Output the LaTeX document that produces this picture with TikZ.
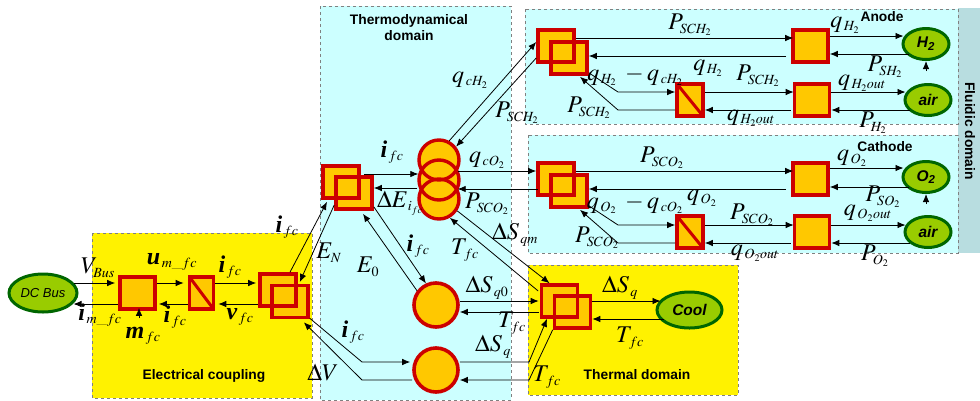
\documentclass[tikz,border=0pt]{standalone}
\usepackage{mathptmx}
\usepackage{amsmath}
\usepackage[no-math]{fontspec}
\newfontfamily\labelfont{Liberation Sans}
\newfontfamily\labelserif{Liberation Serif}
\newcommand{\bv}[1]{\mbox{\labelserif\bfseries\itshape #1}}
\DeclareMathSizes{24}{24}{14}{10}
\usetikzlibrary{arrows.meta,shapes.geometric}
\definecolor{blockred}{HTML}{CC0000}
\definecolor{blockcol}{HTML}{FFC800}
\definecolor{busgreen}{HTML}{99CC00}
\definecolor{darkgreen}{HTML}{006600}
\definecolor{paleblue}{HTML}{CCFFFF}
\definecolor{fluidbar}{HTML}{B8DDE0}
\tikzset{
  domainbox/.style={draw=gray,dashed,line width=.5pt},
  sqblock/.style={draw=blockred,fill=blockcol,line width=3.6pt,minimum width=35pt,minimum height=32pt,inner sep=0pt},
  stblock/.style={sqblock,minimum width=26pt,path picture={\draw[blockred,line width=3pt] (path picture bounding box.north west) -- (path picture bounding box.south east);}},
  dframe/.style={draw=blockred,line width=3.6pt,minimum width=36pt,minimum height=32pt,inner sep=0pt},
  cframe/.style={circle,draw=blockred,line width=3.4pt,minimum size=40pt,inner sep=0pt},
  cblock/.style={circle,draw=blockred,fill=blockcol,line width=3.6pt,minimum size=44pt,inner sep=0pt},
  source/.style={ellipse,draw=darkgreen,fill=busgreen,line width=3pt,inner sep=0pt,minimum width=46pt,minimum height=31pt,font=\labelfont\bfseries\itshape\fontsize{15.5}{17}\selectfont},
  conn/.style={-{Latex[length=8pt,width=6.5pt]},line width=.8pt},
  lab/.style={inner sep=0pt,font=\fontsize{24}{26}\selectfont},
  title/.style={inner sep=0pt,align=center,font=\labelfont\bfseries\fontsize{13.8}{16}\selectfont}
}
\begin{document}
\begin{tikzpicture}[x=1pt,y=-1pt]
\useasboundingbox (0,0) rectangle (980,400);
% domains
\draw[domainbox,fill=yellow] (92,233) rectangle (312,398);
\draw[domainbox,fill=paleblue] (320,6) rectangle (511,400);
\fill[fluidbar] (958,8) rectangle (980,253);
\draw[domainbox,fill=paleblue] (525,9) rectangle (958,124);
\draw[domainbox,fill=paleblue] (528,135) rectangle (958,253);
\draw[domainbox,fill=yellow] (528,265) rectangle (738,395);
% filling under the overlapping frames
\foreach \x/\y in {278/290,290/301.5,341/182,354/193,556/46,569/58,556/179,569/191,559.5/301,572.5/312}
  \fill[blockcol] (\x,\y) +(-18,-16) rectangle +(18,16);
\foreach \y in {160,180,199}
  \fill[blockcol] (439,\y) circle [radius=19];
% electrical coupling
\node[source,minimum width=68pt,minimum height=38pt,font=\labelfont\itshape\fontsize{13}{15}\selectfont] (dcbus) at (43,293) {DC Bus};
\node[sqblock] (sqbus) at (137.5,293) {};
\node[stblock,minimum width=24pt] (stbus) at (201.5,293) {};
\node[dframe] (dbelA) at (278,290) {};
\node[dframe] (dbelB) at (290,301.5) {};
% thermodynamical domain
\node[dframe] (dbthA) at (341,182) {};
\node[dframe] (dbthB) at (354,193) {};
\node[cframe] (ctop) at (439,160) {};
\node[cframe] (cmid) at (439,180) {};
\node[cframe] (cbot) at (439,199) {};
\node[cblock] (cq0) at (436,305) {};
\node[cblock] (cq) at (436,370) {};
% thermal domain
\node[dframe] (dbtmA) at (559.5,301) {};
\node[dframe] (dbtmB) at (572.5,312) {};
\node[source,minimum width=65pt,minimum height=36pt] (cool) at (689.5,310) {Cool};
% anode
\node[dframe] (dbanA) at (556,46) {};
\node[dframe] (dbanB) at (569,58) {};
\node[stblock] (stan) at (690,100) {};
\node[sqblock] (sqanA) at (810.5,46) {};
\node[sqblock] (sqanB) at (812,100) {};
\node[source] (hyd) at (926,44) {H\textsubscript{2}};
\node[source] (airan) at (928,100) {air};
% cathode
\node[dframe] (dbcaA) at (556,179) {};
\node[dframe] (dbcaB) at (569,191) {};
\node[stblock] (stca) at (690,232) {};
\node[sqblock] (sqcaA) at (810.5,179) {};
\node[sqblock] (sqcaB) at (812,232) {};
\node[source] (oxy) at (926,177) {O\textsubscript{2}};
\node[source] (airca) at (928,232) {air};
% free ends and knees
\coordinate (kneeqa) at (362,362);
\coordinate (kneeqb) at (362,380);
\coordinate (kneeqc) at (529,362);
\coordinate (kneeqd) at (529,380);
\coordinate (kneeana) at (618,92);
\coordinate (kneeanb) at (618,110);
\coordinate (kneecaa) at (618,225);
\coordinate (kneecab) at (618,243);
\coordinate (hydin) at (926,71);
\coordinate (oxyin) at (926,204);
\coordinate (mfcin) at (139,318);
% electrical connectors
\draw[conn] ([xshift=-5pt,yshift=10pt]dcbus.east) -- ([xshift=-3pt,yshift=10pt]sqbus.west);
\draw[conn] ([yshift=-11pt]sqbus.west) -- ([xshift=-5pt,yshift=-11pt]dcbus.east);
\draw[conn] ([yshift=10pt]sqbus.east) -- ([xshift=-4pt,yshift=10pt]stbus.west);
\draw[conn] ([yshift=-11pt]stbus.west) -- ([xshift=2pt,yshift=-11pt]sqbus.east);
\draw[conn] ([yshift=10pt]stbus.east) -- ([xshift=-2pt,yshift=7pt]dbelA.west);
\draw[conn] ([yshift=-14pt]dbelA.west) -- ([xshift=3pt,yshift=-11pt]stbus.east);
\draw[conn] (mfcin) -- ([xshift=1.5pt,yshift=3pt]sqbus.south);
\draw[conn] ([xshift=12pt]dbelA.north) -- ([xshift=-14pt,yshift=-2pt]dbthA.south);
\draw[conn] ([yshift=-12pt]dbthB.west) -- ([xshift=2pt,yshift=8pt]dbelA.east);
\draw[conn] ([yshift=1pt]dbelB.south east) -- (kneeqa) -- ([xshift=-2pt,yshift=8pt]cq.west);
\draw[conn] ([yshift=-10pt]cq.west) -- (kneeqb) -- ([xshift=-6pt,yshift=-3pt]dbelB.south east);
% thermodynamical connectors
\draw[conn] ([xshift=3pt,yshift=8pt]dbthA.east) -- ([xshift=1pt,yshift=6pt]cmid.west);
\draw[conn] ([yshift=-8pt]cmid.west) -- ([yshift=5pt]dbthB.east);
\draw[conn] (ctop.62) -- ([yshift=4pt]dbanA.west);
\draw[conn] ([yshift=-12pt]dbanA.west) -- (ctop.38);
\draw[conn] ([xshift=-3pt,yshift=9pt]cmid.east) -- ([yshift=8pt]dbcaA.west);
\draw[conn] ([xshift=2pt,yshift=-10pt]dbcaA.west) -- ([xshift=-3pt,yshift=-9pt]cmid.east);
\draw[conn] (cbot.-33) -- ([xshift=-10pt]dbtmA.north);
\draw[conn] ([xshift=-1.5pt,yshift=10pt]dbtmA.west) -- (cbot.-60);
\draw[conn] ([yshift=4pt]dbthB.south east) -- (cq0.115);
\draw[conn] (cq0.143) -- ([xshift=9pt,yshift=-3pt]dbthB.south);
\draw[conn] ([yshift=4pt]cq0.east) -- ([xshift=-1pt]dbtmA.west);
\draw[conn] ([xshift=-1pt,yshift=-11pt]dbtmA.west) -- ([yshift=-7pt]cq0.east);
\draw[conn] ([yshift=8pt]cq.east) -- (kneeqc) -- ([xshift=-12.5pt]dbtmA.south);
\draw[conn] (dbtmB.south west) -- (kneeqd) -- ([yshift=-10pt]cq.east);
% thermal connectors
\draw[conn] ([yshift=11pt]dbtmB.east) -- ([xshift=5pt,yshift=9pt]cool.west);
\draw[conn] ([xshift=8pt,yshift=-9pt]cool.west) -- ([yshift=-7pt]dbtmB.east);
% anode connectors
\draw[conn] ([yshift=8pt]dbanA.east) -- ([xshift=2pt,yshift=8pt]sqanA.west);
\draw[conn] ([xshift=-5pt,yshift=-10pt]sqanA.west) -- ([yshift=2pt]dbanB.east);
\draw[conn] ([yshift=3pt]dbanB.south east) -- (kneeana) -- ([yshift=8pt]stan.west);
\draw[conn] ([yshift=-10pt]stan.west) -- (kneeanb) -- ([xshift=11pt,yshift=-1pt]dbanB.south);
\draw[conn] ([yshift=8pt]stan.east) -- ([xshift=1pt,yshift=8pt]sqanB.west);
\draw[conn] ([xshift=-2pt,yshift=-10pt]sqanB.west) -- ([yshift=-10pt]stan.east);
\draw[conn] ([yshift=10pt]sqanA.east) -- ([xshift=2pt,yshift=8pt]hyd.west);
\draw[conn] ([xshift=7pt,yshift=-10pt]hyd.west) -- ([yshift=-8pt]sqanA.east);
\draw[conn] (hydin) -- (hyd.south);
\draw[conn] ([yshift=8pt]sqanB.east) -- ([xshift=2pt,yshift=8pt]airan.west);
\draw[conn] ([xshift=6pt,yshift=-10pt]airan.west) -- ([yshift=-10pt]sqanB.east);
% cathode connectors
\draw[conn] ([yshift=8pt]dbcaA.east) -- ([xshift=2pt,yshift=8pt]sqcaA.west);
\draw[conn] ([xshift=-5pt,yshift=-10pt]sqcaA.west) -- ([yshift=2pt]dbcaB.east);
\draw[conn] ([yshift=3pt]dbcaB.south east) -- (kneecaa) -- ([yshift=7pt]stca.west);
\draw[conn] ([yshift=-11pt]stca.west) -- (kneecab) -- ([xshift=11pt,yshift=-1pt]dbcaB.south);
\draw[conn] ([yshift=7pt]stca.east) -- ([xshift=1pt,yshift=7pt]sqcaB.west);
\draw[conn] ([xshift=-2pt,yshift=-11pt]sqcaB.west) -- ([yshift=-11pt]stca.east);
\draw[conn] ([yshift=11pt]sqcaA.east) -- ([xshift=2pt,yshift=9pt]oxy.west);
\draw[conn] ([xshift=7pt,yshift=-10pt]oxy.west) -- ([yshift=-8pt]sqcaA.east);
\draw[conn] (oxyin) -- (oxy.south);
\draw[conn] ([yshift=7pt]sqcaB.east) -- ([xshift=2pt,yshift=7pt]airca.west);
\draw[conn] ([xshift=6pt,yshift=-11pt]airca.west) -- ([yshift=-11pt]sqcaB.east);
% titles
\node[title] (telec) at (204,376) {Electrical coupling};
\node[title] (tthermo) at (409,28) {Thermodynamical\\domain};
\node[title] (ttherm) at (637,375) {Thermal domain};
\node[title] (tanode) at (882,17) {Anode};
\node[title] (tcath) at (885,147) {Cathode};
\node[title,rotate=-90] (tfluid) at (970,131) {Fluidic domain};
% electrical labels
\node[lab] (lvbus) at (98,268) {$V_{Bus}$};
\node[lab] (lumfc) at (172,262) {$\bv{u}_{\,m\_fc}$};
\node[lab] (lifca) at (230,267) {$\bv{i}_{\,fc}$};
\node[lab] (limfc) at (100,315) {$\bv{i}_{\,m\_fc}$};
\node[lab] (lifcb) at (175,317) {$\bv{i}_{\,fc}$};
\node[lab] (lvfc) at (240,317) {$\bv{v}_{\,fc}$};
\node[lab] (lmfc) at (143,336) {$\bv{m}_{\,fc}$};
\node[lab] (lifcc) at (287,227) {$\bv{i}_{\,fc}$};
\node[lab] (len) at (329,253) {$E_N$};
\node[lab] (leo) at (368,267) {$E_0$};
\node[lab] (ldv) at (323,372) {$\Delta V$};
% thermodynamical labels
\node[lab] (lqch) at (470,80) {$q_{\,cH_2}$};
\node[lab] (lpsch) at (517,113) {$P_{SCH_2}$};
\node[lab] (lifcd) at (392,152) {$\bv{i}_{\,fc}$};
\node[lab] (lqco) at (487,160) {$q_{\,cO_2}$};
\node[lab] (lde) at (400,203) {$\Delta E_{\,i_{fc}}$};
\node[lab] (lpsco) at (487,204) {$P_{SCO_2}$};
\node[lab] (ldsqm) at (515,235) {$\Delta S_{\,qm}$};
\node[lab] (ltfca) at (465,250) {$T_{\,fc}$};
\node[lab] (lifce) at (418,246) {$\bv{i}_{\,fc}$};
\node[lab] (ldsqo) at (487,288) {$\Delta S_{\,q0}$};
\node[lab] (ltfcb) at (512,323) {$T_{\,fc}$};
\node[lab] (ldsqa) at (493,347) {$\Delta S_{\,q}$};
\node[lab] (lifcf) at (353,332) {$\bv{i}_{\,fc}$};
\node[lab] (ltfcc) at (547,377) {$T_{\,fc}$};
% thermal labels
\node[lab] (ldsqb) at (620,288) {$\Delta S_{\,q}$};
\node[lab] (ltfcd) at (630,338) {$T_{\,fc}$};
% anode labels
\node[lab] (lpan) at (690,25) {$P_{SCH_2}$};
\node[lab] (lqana) at (708,68) {$q_{\,H_2}$};
\node[lab] (lqanb) at (635,76) {$q_{\,H_2}\;-q_{\,cH_2}$};
\node[lab] (lpanb) at (758,76) {$P_{SCH_2}$};
\node[lab] (lpanc) at (589,108) {$P_{SCH_2}$};
\node[lab] (lqoa) at (751,118) {$q_{\,H_2 out}$};
\node[lab] (lqanc) at (845,25) {$q_{\,H_2}$};
\node[lab] (lpsh) at (885,67) {$P_{SH_2}$};
\node[lab] (lqob) at (862,83) {$q_{\,H_2 out}$};
\node[lab] (lph) at (873,123) {$P_{H_2}$};
% cathode labels
\node[lab] (lpca) at (662,158) {$P_{SCO_2}$};
\node[lab] (lqcaa) at (702,198) {$q_{\,O_2}$};
\node[lab] (lqcab) at (635,204) {$q_{\,O_2}\;-q_{\,cO_2}$};
\node[lab] (lpcb) at (752,215) {$P_{SCO_2}$};
\node[lab] (lpcc) at (597,238) {$P_{SCO_2}$};
\node[lab] (lqoc) at (755,253) {$q_{\,O_2 out}$};
\node[lab] (lqcac) at (852,158) {$q_{\,O_2}$};
\node[lab] (lpso) at (883,197) {$P_{SO_2}$};
\node[lab] (lqod) at (868,213) {$q_{\,O_2 out}$};
\node[lab] (lpo) at (875,256) {$P_{O_2}$};
\end{tikzpicture}
\end{document}
